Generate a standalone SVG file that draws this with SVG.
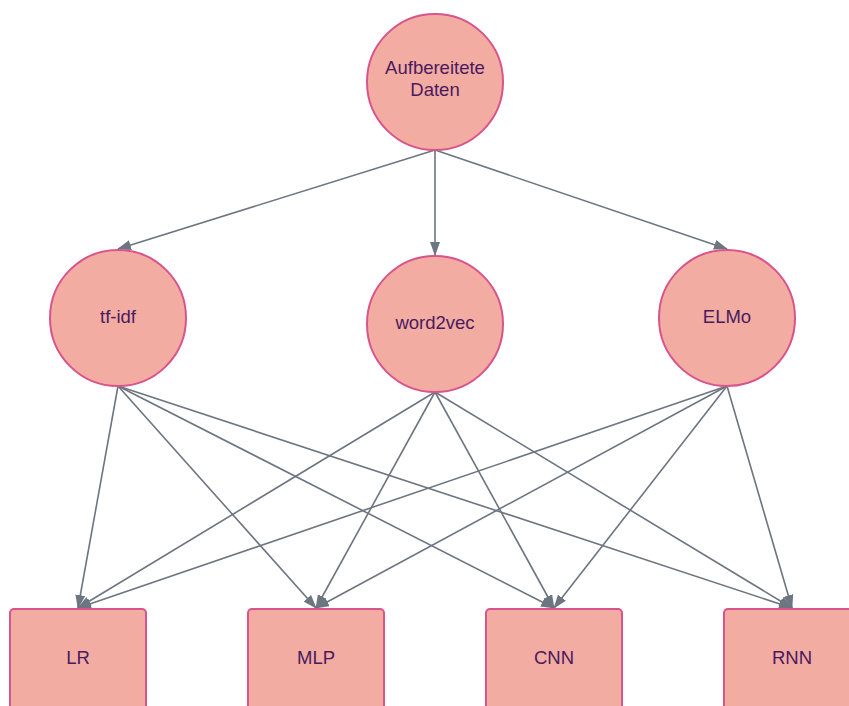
<svg xmlns="http://www.w3.org/2000/svg" width="849" height="706" viewBox="0 0 849 706">
<style>
.n{fill:#f2aca2;stroke:#d9538c;stroke-width:2}
.t{font-family:"Liberation Sans",Arial,sans-serif;font-size:18.5px;fill:#4a1a5e;text-anchor:middle;dominant-baseline:central}
.e{stroke:#6c7580;stroke-width:1.6;fill:none;marker-end:url(#a)}
</style>
<defs>
<marker id="a" viewBox="0 0 14 10" refX="13" refY="5" markerWidth="14" markerHeight="10" markerUnits="userSpaceOnUse" orient="auto">
<path d="M0,0 L14,5 L0,10 Z" fill="#6c7580"/>
</marker>
</defs>
<rect width="849" height="706" fill="#fff"/>
<g id="connectors">
<line class="e" x1="435" y1="150" x2="118" y2="249"/>
<line class="e" x1="435" y1="150" x2="435" y2="255"/>
<line class="e" x1="435" y1="150" x2="727" y2="249"/>
<line class="e" x1="118" y1="386" x2="78" y2="608"/>
<line class="e" x1="118" y1="386" x2="316" y2="608"/>
<line class="e" x1="118" y1="386" x2="554" y2="608"/>
<line class="e" x1="118" y1="386" x2="792" y2="608"/>
<line class="e" x1="435" y1="392" x2="78" y2="608"/>
<line class="e" x1="435" y1="392" x2="316" y2="608"/>
<line class="e" x1="435" y1="392" x2="554" y2="608"/>
<line class="e" x1="435" y1="392" x2="792" y2="608"/>
<line class="e" x1="727" y1="386" x2="78" y2="608"/>
<line class="e" x1="727" y1="386" x2="316" y2="608"/>
<line class="e" x1="727" y1="386" x2="554" y2="608"/>
<line class="e" x1="727" y1="386" x2="792" y2="608"/>
</g>
<g id="daten">
<circle class="n" cx="435" cy="82" r="68"/>
<text class="t" x="435" y="67">Aufbereitete</text>
<text class="t" x="435" y="89">Daten</text>
</g>
<g id="tfidf">
<circle class="n" cx="118" cy="318" r="68"/>
<text class="t" x="118" y="316">tf-idf</text>
</g>
<g id="word2vec">
<circle class="n" cx="435" cy="324" r="68"/>
<text class="t" x="435" y="322">word2vec</text>
</g>
<g id="elmo">
<circle class="n" cx="727" cy="318" r="68"/>
<text class="t" x="727" y="316">ELMo</text>
</g>
<g id="lr">
<rect class="n" x="10" y="609" width="136" height="110" rx="4"/>
<text class="t" x="78" y="657">LR</text>
</g>
<g id="mlp">
<rect class="n" x="248" y="609" width="136" height="110" rx="4"/>
<text class="t" x="316" y="657">MLP</text>
</g>
<g id="cnn">
<rect class="n" x="486" y="609" width="136" height="110" rx="4"/>
<text class="t" x="554" y="657">CNN</text>
</g>
<g id="rnn">
<rect class="n" x="724" y="609" width="136" height="110" rx="4"/>
<text class="t" x="792" y="657">RNN</text>
</g>
</svg>
